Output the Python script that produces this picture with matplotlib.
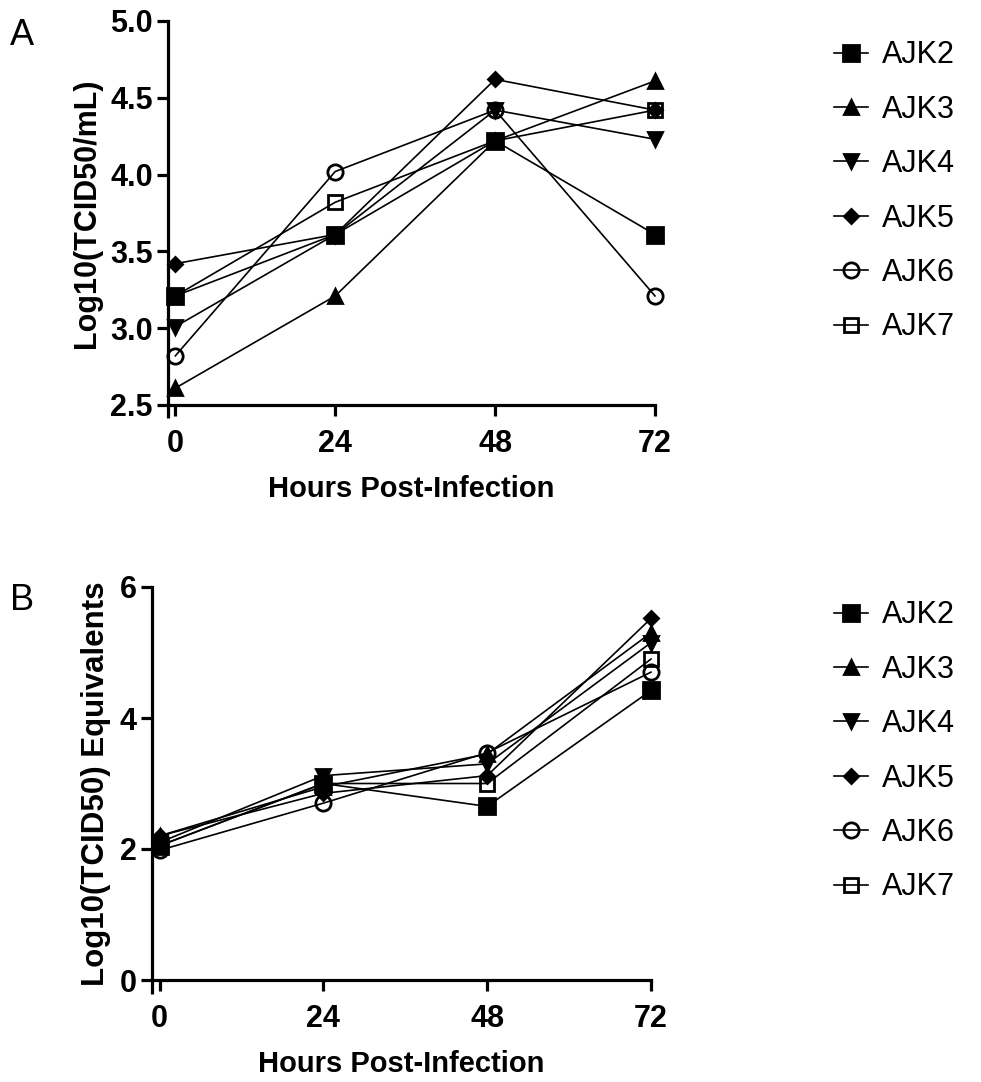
import matplotlib
matplotlib.use("Agg")
import matplotlib.pyplot as plt

# ---- data ----
hours = [0, 24, 48, 72]
strains = ["AJK2", "AJK3", "AJK4", "AJK5", "AJK6", "AJK7"]
markers = ["s", "^", "v", "D", "o", "s"]
fills = ["k", "k", "k", "k", "none", "none"]
msizes = [11, 9.5, 9.5, 7.5, 11, 10.5]

# panel A: Log10(TCID50/mL)
titer_ajk2 = [3.21, 3.61, 4.22, 3.61]
titer_ajk3 = [2.61, 3.21, 4.22, 4.61]
titer_ajk4 = [3.01, 3.61, 4.42, 4.23]
titer_ajk5 = [3.42, 3.61, 4.62, 4.42]
titer_ajk6 = [2.82, 4.02, 4.42, 3.21]
titer_ajk7 = [3.21, 3.82, 4.22, 4.42]
titers = [titer_ajk2, titer_ajk3, titer_ajk4, titer_ajk5, titer_ajk6, titer_ajk7]

# panel B: Log10(TCID50) equivalents
equiv_ajk2 = [2.05, 3.00, 2.65, 4.42]
equiv_ajk3 = [2.20, 2.95, 3.45, 5.30]
equiv_ajk4 = [2.10, 3.12, 3.30, 5.15]
equiv_ajk5 = [2.20, 2.85, 3.12, 5.52]
equiv_ajk6 = [1.98, 2.70, 3.47, 4.70]
equiv_ajk7 = [2.05, 3.00, 3.00, 4.90]
equivs = [equiv_ajk2, equiv_ajk3, equiv_ajk4, equiv_ajk5, equiv_ajk6, equiv_ajk7]

bold_font = ["Liberation Sans Narrow", "Liberation Sans", "DejaVu Sans"]
reg_font = ["Liberation Sans", "DejaVu Sans"]

fig = plt.figure(figsize=(9.81, 10.82), dpi=100)
W, H = 981, 1082


def px_axes(left, right, top, bottom):
    return fig.add_axes([left / W, 1 - bottom / H, (right - left) / W, (bottom - top) / H])


def style_panel(ax, ylim, yticks, yfmt, ylabel, ylab_size, legend_top):
    for s in ["top", "right"]:
        ax.spines[s].set_visible(False)
    for s in ["left", "bottom"]:
        ax.spines[s].set_linewidth(2.3)
    ax.set_xlim(-1.1, 72)
    ax.set_ylim(*ylim)
    ax.set_xticks(hours)
    ax.set_yticks(yticks)
    ax.set_yticklabels([yfmt.format(v) for v in yticks])
    ax.tick_params(direction="out", length=8, width=2.3)
    ax.tick_params(axis="x", pad=9)
    ax.tick_params(axis="y", pad=3)
    for lab in ax.get_xticklabels() + ax.get_yticklabels():
        lab.set_family(bold_font)
        lab.set_fontweight("bold")
        lab.set_fontsize(22)
    ax.set_xlabel("Hours Post-Infection", family=bold_font, fontweight="bold",
                  fontsize=21, labelpad=12)
    ax.set_ylabel(ylabel, family=bold_font, fontweight="bold", fontsize=ylab_size,
                  labelpad=6)
    # y axis extends a little below the x axis (GraphPad style)
    ax.plot([0, 0], [0, -0.035], transform=ax.transAxes, color="k", lw=2.3,
            clip_on=False, solid_capstyle="butt")
    ax.legend(loc="upper left", bbox_to_anchor=(822 / W, 1 - legend_top / H),
              bbox_transform=fig.transFigure, frameon=False,
              prop={"family": reg_font, "size": 22}, handlelength=1.1,
              handletextpad=0.45, labelspacing=0.8, borderaxespad=0)


def draw_series(ax, data):
    for name, vals, m, fc, ms in zip(strains, data, markers, fills, msizes):
        ax.plot(hours, vals, color="k", lw=1.2, marker=m, markersize=ms,
                markerfacecolor=fc, markeredgecolor="k", markeredgewidth=2,
                label=name, clip_on=False, zorder=3)


# panel A
axA = px_axes(168, 655, 21, 405)
draw_series(axA, titers)
style_panel(axA, (2.5, 5.0), [2.5, 3.0, 3.5, 4.0, 4.5, 5.0], "{:.1f}",
            "Log10(TCID50/mL)", 22, 28)
fig.text(10 / W, 1 - 45 / H, "A", family=reg_font, fontsize=26)

# panel B
axB = px_axes(152, 651, 587, 980)
draw_series(axB, equivs)
style_panel(axB, (0, 6), [0, 2, 4, 6], "{:d}", "Log10(TCID50) Equivalents", 22.5, 588)
fig.text(10 / W, 1 - 610 / H, "B", family=reg_font, fontsize=26)

fig.savefig("out.png", dpi=100)
